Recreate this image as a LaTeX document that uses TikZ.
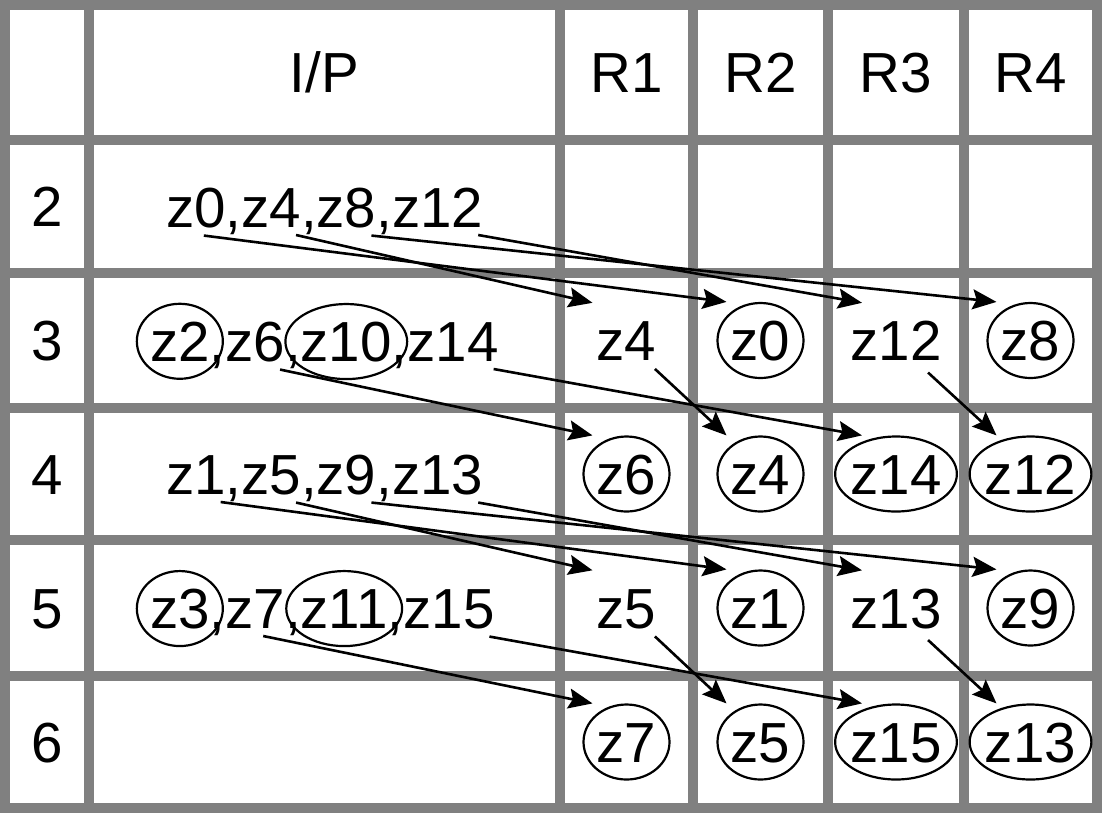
\documentclass[tikz,border=0pt]{standalone}
\usepackage{fontspec}
\setmainfont{Liberation Sans}
\usetikzlibrary{arrows.meta,shapes.geometric}

\tikzset{
  gridline/.style={draw=gray, line width=9.5pt},
  lab/.style={inner sep=0pt, text height=40.5pt, text depth=0pt},
  tok/.style={inner sep=0pt, outer xsep=0pt, outer ysep=8pt, anchor=base west},
  slot/.style={ellipse, inner xsep=-2.5pt, inner ysep=0pt, text height=40.5pt, text depth=0pt,
    minimum width=86pt, minimum height=75pt},
  ring/.style={slot, draw, line width=2.2pt},
  link/.style={line width=2.6pt, -{Stealth[length=24pt, width=20pt, inset=4pt]}}
}

% one line of the input column: prefix, start (base west), list of token/ring
\newcommand\inrow[3]{%
  \foreach \tk/\rg [count=\i] in {#3} {
    \ifnum\i=1
      \node[tok] (#1\i) at (#2) {\tk};
    \else
      \pgfmathtruncatemacro\prev{\i-1}
      \node[tok] (#1c\i) at (#1\prev.base east) {,};
      \node[tok] (#1\i) at (#1c\i.base east) {\tk};
    \fi
    \ifnum\rg=1 \node[ring] at (#1\i) {\phantom{\tk}}; \fi
  }%
}

\begin{document}
\begin{tikzpicture}[x=1pt, y=-1pt, every node/.style={font=\fontsize{56.5}{68}\selectfont}]
    \useasboundingbox (0,0) rectangle (1102,815);

    % table
    \foreach \x in {89,560,693,828,964}
        \draw[gridline] (\x,5) -- (\x,808);
    \foreach \y in {140,273,408,540,676}
        \draw[gridline] (5,\y) -- (1097,\y);
    \draw[gridline] (5,5) rectangle (1097,808);

    % header and row numbers
    \node[lab] (ip) at (324.5,72.5) {I/P};
    \node[lab] (h1) at (626.5,72.5) {R1};
    \node[lab] (h2) at (760.5,72.5) {R2};
    \node[lab] (h3) at (896,72.5) {R3};
    \node[lab] (h4) at (1030.5,72.5) {R4};
    \node[lab] (n2) at (47,206.5) {2};
    \node[lab] (n3) at (47,340.5) {3};
    \node[lab] (n4) at (47,474) {4};
    \node[lab] (n5) at (47,608) {5};
    \node[lab] (n6) at (47,742) {6};

    % input column
    \inrow{in2}{166,227}{z0/0,z4/0,z8/0,z12/0}
    \inrow{in3}{150,361}{z2/1,z6/0,z10/1,z14/0}
    \inrow{in4}{166,494}{z1/0,z5/0,z9/0,z13/0}
    \inrow{in5}{150,628}{z3/1,z7/0,z11/1,z15/0}

    % registers
    \node[slot] (r31) at (626.5,340.5) {z4};
    \node[ring] (r32) at (760.5,340.5) {z0};
    \node[slot] (r33) at (896,340.5) {z12};
    \node[ring] (r34) at (1030.5,340.5) {z8};
    \node[ring] (r41) at (626.5,474) {z6};
    \node[ring] (r42) at (760.5,474) {z4};
    \node[ring] (r43) at (896,474) {z14};
    \node[ring] (r44) at (1030.5,474) {z12};
    \node[slot] (r51) at (626.5,608) {z5};
    \node[ring] (r52) at (760.5,608) {z1};
    \node[slot] (r53) at (896,608) {z13};
    \node[ring] (r54) at (1030.5,608) {z9};
    \node[ring] (r61) at (626.5,742) {z7};
    \node[ring] (r62) at (760.5,742) {z5};
    \node[ring] (r63) at (896,742) {z15};
    \node[ring] (r64) at (1030.5,742) {z13};

    % moves
    \draw[link] ([xshift=8pt]in21.south) -- ([xshift=-34pt]r32.north);
    \draw[link] ([xshift=-5pt]in22.south east) -- ([xshift=-34pt]r31.north);
    \draw[link] ([xshift=-5pt]in23.south east) -- ([xshift=-34pt]r34.north);
    \draw[link] ([xshift=-5pt]in24.south east) -- ([xshift=-34pt]r33.north);
    \draw[link] ([xshift=-5pt]in32.south east) -- ([xshift=-34pt]r41.north);
    \draw[link] ([xshift=-5pt]in34.south east) -- ([xshift=-34pt]r43.north);
    \draw[link] (r31.-45) -- ([xshift=-34pt]r42.north);
    \draw[link] (r33.-45) -- ([xshift=-34pt]r44.north);
    \draw[link] ([xshift=-5pt]in41.south east) -- ([xshift=-34pt]r52.north);
    \draw[link] ([xshift=-5pt]in42.south east) -- ([xshift=-34pt]r51.north);
    \draw[link] ([xshift=-5pt]in43.south east) -- ([xshift=-34pt]r54.north);
    \draw[link] ([xshift=-5pt]in44.south east) -- ([xshift=-34pt]r53.north);
    \draw[link] ([xshift=8pt]in52.south) -- ([xshift=-34pt]r61.north);
    \draw[link] ([xshift=-5pt]in54.south east) -- ([xshift=-34pt]r63.north);
    \draw[link] (r51.-45) -- ([xshift=-34pt]r62.north);
    \draw[link] (r53.-45) -- ([xshift=-34pt]r64.north);
\end{tikzpicture}
\end{document}
